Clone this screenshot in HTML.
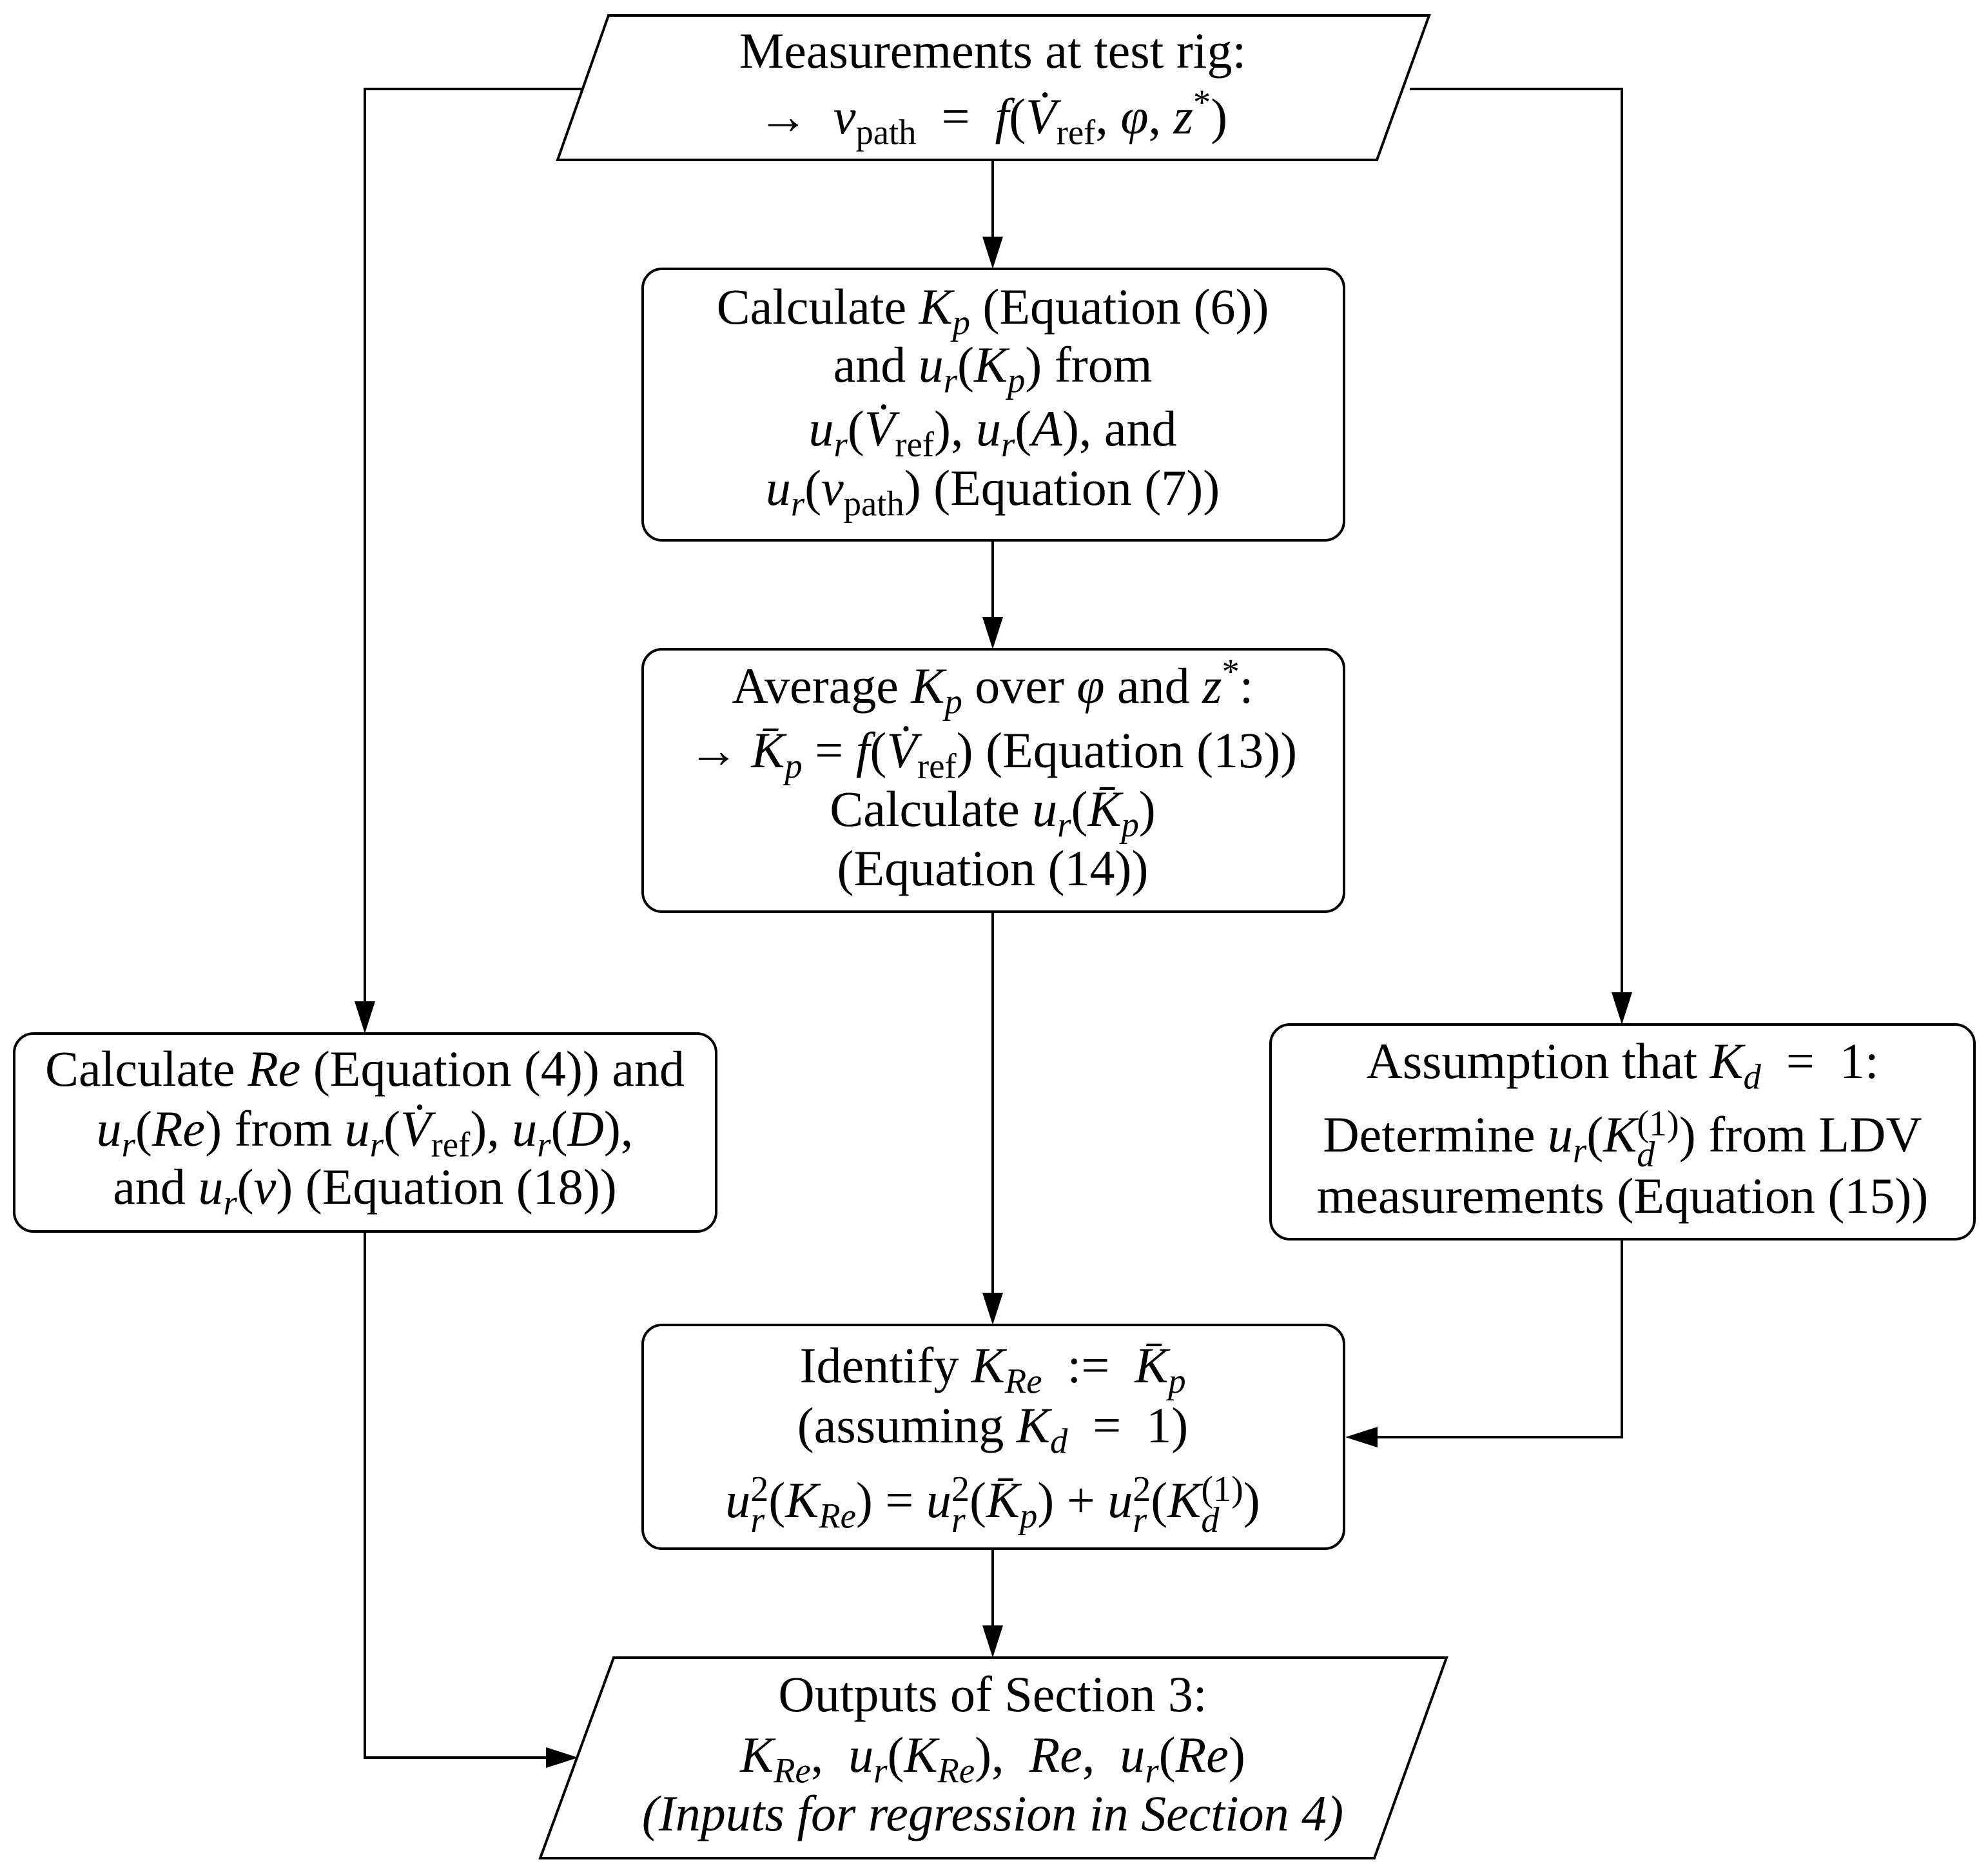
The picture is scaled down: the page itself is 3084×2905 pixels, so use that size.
<!DOCTYPE html>
<html><head><meta charset="utf-8">
<style>
html,body{margin:0;padding:0;background:#fff;}
#c{position:relative;width:3084px;height:2905px;overflow:hidden;font-family:"Liberation Serif",serif;color:#000;}
svg{position:absolute;left:0;top:0;}
.t{position:absolute;height:90px;line-height:90px;font-size:78px;text-align:center;white-space:nowrap;transform:translateX(-50%);}
sub,sup{font-size:0.7em;line-height:0;}
sub{vertical-align:-0.3em;}
sup{vertical-align:0.55em;}
.ss{display:inline-block;vertical-align:middle;line-height:0.85em;text-align:left;font-size:0.72em;}
</style></head><body><div id="c">
<svg width="3084" height="2905" viewBox="0 0 3084 2905">
<g fill="none" stroke="#000" stroke-width="4">
<polygon points="944,24 2217,24 2136,248 865,248"/>
<polygon points="952,2571 2244,2571 2132,2882 838,2882"/>
<rect x="997" y="417" width="1088" height="421" rx="30"/>
<rect x="997" y="1007" width="1088" height="407" rx="30"/>
<rect x="22" y="1603" width="1089" height="307" rx="30"/>
<rect x="1971" y="1589" width="1092" height="333" rx="30"/>
<rect x="997" y="2055" width="1088" height="347" rx="30"/>
<polyline points="903,138 566,138 566,1555"/>
<polyline points="2187,138 2516,138 2516,1541"/>
<line x1="1540" y1="248" x2="1540" y2="369"/>
<line x1="1540" y1="838" x2="1540" y2="959"/>
<line x1="1540" y1="1414" x2="1540" y2="2007"/>
<line x1="1540" y1="2402" x2="1540" y2="2523"/>
<polyline points="2516,1922 2516,2229 2135,2229"/>
<polyline points="566,1910 566,2726 849,2726"/>
</g>
<g fill="#000">
<polygon points="550,1553 582,1553 566,1603"/>
<polygon points="2500,1539 2532,1539 2516,1589"/>
<polygon points="1524,367 1556,367 1540,417"/>
<polygon points="1524,957 1556,957 1540,1007"/>
<polygon points="1524,2005 1556,2005 1540,2055"/>
<polygon points="1524,2521 1556,2521 1540,2571"/>
<polygon points="2137,2213 2137,2245 2087,2229"/>
<polygon points="847,2710 847,2742 897,2726"/>
</g>
</svg>

<div class="t" style="left:1540px;top:34px">Measurements at test rig:</div>
<div class="t" style="left:1540px;top:136px">→ &nbsp;<i>v</i><sub>path</sub> &nbsp;= &nbsp;<i>f</i>(<i>V̇</i><sub>ref</sub>, <i>φ</i>, <i>z</i><sup>*</sup>)</div>

<div class="t" style="left:1540px;top:431px">Calculate <i>K<sub>p</sub></i> (Equation (6))</div>
<div class="t" style="left:1540px;top:521px">and <i>u<sub>r</sub></i>(<i>K<sub>p</sub></i>) from</div>
<div class="t" style="left:1540px;top:620px"><i>u<sub>r</sub></i>(<i>V̇</i><sub>ref</sub>), <i>u<sub>r</sub></i>(<i>A</i>), and</div>
<div class="t" style="left:1540px;top:712px"><i>u<sub>r</sub></i>(<i>v</i><sub>path</sub>) (Equation (7))</div>

<div class="t" style="left:1540px;top:1019px">Average <i>K<sub>p</sub></i> over <i>φ</i> and <i>z</i><sup>*</sup>:</div>
<div class="t" style="left:1540px;top:1119px">→ <i>K̄<sub>p</sub></i> = <i>f</i>(<i>V̇</i><sub>ref</sub>) (Equation (13))</div>
<div class="t" style="left:1540px;top:1210px">Calculate <i>u<sub>r</sub></i>(<i>K̄<sub>p</sub></i>)</div>
<div class="t" style="left:1540px;top:1302px">(Equation (14))</div>

<div class="t" style="left:566px;top:1613px">Calculate <i>Re</i> (Equation (4)) and</div>
<div class="t" style="left:566px;top:1706px"><i>u<sub>r</sub></i>(<i>Re</i>) from <i>u<sub>r</sub></i>(<i>V̇</i><sub>ref</sub>), <i>u<sub>r</sub></i>(<i>D</i>),</div>
<div class="t" style="left:566px;top:1796px">and <i>u<sub>r</sub></i>(<i>ν</i>) (Equation (18))</div>

<div class="t" style="left:2517px;top:1601px">Assumption that <i>K<sub>d</sub></i> &nbsp;= &nbsp;1:</div>
<div class="t" style="left:2517px;top:1715px">Determine <i>u<sub>r</sub></i>(<i>K</i><span class="ss">(1)<br><i>d</i></span>) from LDV</div>
<div class="t" style="left:2517px;top:1810px">measurements (Equation (15))</div>

<div class="t" style="left:1540px;top:2073px">Identify <i>K<sub>Re</sub></i> &nbsp;:= &nbsp;<i>K̄<sub>p</sub></i></div>
<div class="t" style="left:1540px;top:2166px">(assuming <i>K<sub>d</sub></i> &nbsp;= &nbsp;1)</div>
<div class="t" style="left:1540px;top:2282px"><i>u</i><span class="ss">2<br><i>r</i></span>(<i>K<sub>Re</sub></i>) = <i>u</i><span class="ss">2<br><i>r</i></span>(<i>K̄<sub>p</sub></i>) + <i>u</i><span class="ss">2<br><i>r</i></span>(<i>K</i><span class="ss">(1)<br><i>d</i></span>)</div>

<div class="t" style="left:1540px;top:2583px">Outputs of Section 3:</div>
<div class="t" style="left:1540px;top:2677px"><i>K<sub>Re</sub></i>, &nbsp;<i>u<sub>r</sub></i>(<i>K<sub>Re</sub></i>), &nbsp;<i>Re</i>, &nbsp;<i>u<sub>r</sub></i>(<i>Re</i>)</div>
<div class="t" style="left:1540px;top:2768px"><i>(Inputs for regression in Section 4)</i></div>
</div></body></html>
